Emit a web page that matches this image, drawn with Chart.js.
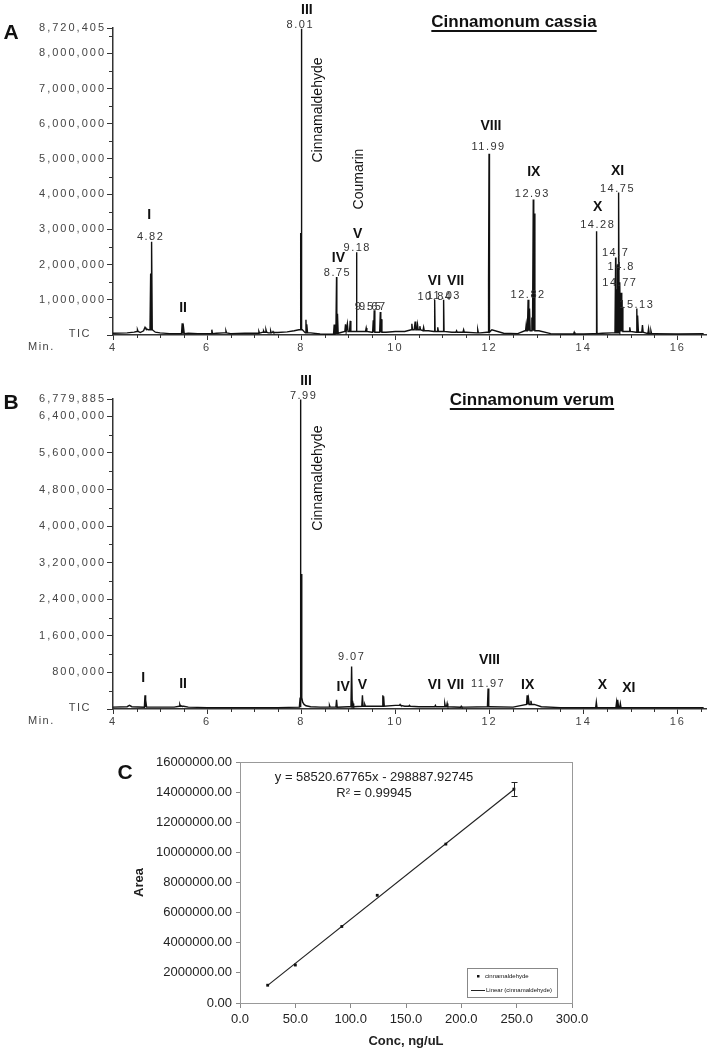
<!DOCTYPE html>
<html>
<head>
<meta charset="utf-8">
<script src="https://cdn.jsdelivr.net/npm/chart.js@4"></script>
<style>
  body{margin:0;background:#fff;width:716px;height:1049px;position:relative;overflow:hidden}
  canvas{position:absolute;left:0}
</style>
</head>
<body>
<canvas id="cassia" width="716" height="360" style="top:0"></canvas>
<canvas id="verum" width="716" height="375" style="top:360px"></canvas>
<canvas id="calib" width="716" height="314" style="top:735px"></canvas>
<script>
// values in millions of counts unless noted
const M = 1e6;

// --- A: Cinnamonum cassia ---
const baseA_t = [4.0,4.3,4.45,4.52,4.58,4.65,4.7,4.75,4.9,5.0,5.2,5.4,5.6,5.8,6.0,6.2,6.35,6.5,6.8,7.0,7.2,7.3,7.5,7.7,7.85,7.95,8.2,8.4,8.6,8.8,9.0,9.3,9.5,9.8,10.0,10.2,10.4,10.7,10.95,11.2,11.5,11.8,11.95,12.05,12.3,12.6,12.75,13.05,13.3,13.6,14.0,14.2,14.4,14.6,14.9,15.2,15.5,16.0,16.55];
const baseA_y = [0.05,0.06,0.08,0.1,0.07,0.12,0.18,0.15,0.08,0.06,0.04,0.04,0.05,0.04,0.04,0.05,0.06,0.04,0.05,0.05,0.08,0.06,0.07,0.09,0.12,0.15,0.06,0.03,0.02,0.05,0.1,0.1,0.08,0.08,0.1,0.1,0.15,0.12,0.1,0.08,0.08,0.06,0.08,0.15,0.05,0.04,0.12,0.12,0.04,0.03,0.03,0.04,0.05,0.06,0.1,0.08,0.04,0.03,0.04];
const peakA_t = [4.52,4.68,4.80,4.82,5.47,5.50,6.10,6.40,7.10,7.20,7.25,7.35,7.40,7.99,8.00,8.01,8.10,8.12,8.70,8.75,8.77,8.94,8.98,9.04,9.17,9.18,9.38,9.53,9.55,9.68,9.70,10.35,10.42,10.47,10.52,10.60,10.83,10.84,10.90,11.02,11.03,11.30,11.45,11.75,11.98,11.99,12.78,12.82,12.85,12.90,12.93,12.95,13.80,14.27,14.28,14.68,14.70,14.72,14.75,14.77,14.80,14.82,14.98,15.13,15.15,15.25,15.38,15.43];
const peakA_h = [0.15,0.22,1.75,2.65,0.33,0.20,0.15,0.12,0.10,0.12,0.15,0.12,0.10,2.90,6.45,8.70,0.43,0.30,0.30,1.65,0.60,0.30,0.32,0.40,1.65,2.35,0.20,0.42,0.70,0.65,0.45,0.32,0.38,0.30,0.25,0.22,0.60,1.00,0.22,0.85,1.00,0.12,0.15,0.15,1.56,5.15,0.30,1.00,0.75,0.50,3.85,3.45,0.08,2.75,2.95,2.20,1.30,2.00,4.05,1.50,1.20,0.80,0.22,0.75,0.55,0.28,0.18,0.12];
const yTicksA = [0,1,2,3,4,5,6,7,8];
const yTopA = 8720405;
const romanA = ['I','II','III','IV','V','VI','VII','VIII','IX','X','XI'];
const romanA_t = [4.77,5.49,8.12,8.79,9.20,10.83,11.28,12.03,12.94,14.30,14.72];
const romanA_y = [3.41,0.77,9.23,2.19,2.87,1.53,1.53,5.94,4.63,3.64,4.66];
const rtA = ['4.82','8.01','8.75','9.18','9.55','9.67','10.84','11.03','11.99','12.82','12.93','14.28','14.75','14.7','14.8','14.77','15.13'];
const rtA_t = [4.80,7.98,8.77,9.19,9.43,9.52,10.84,11.03,11.98,12.82,12.91,14.30,14.72,14.68,14.80,14.77,15.13];
const rtA_y = [2.78,8.80,1.76,2.47,0.80,0.80,1.08,1.12,5.34,1.14,4.00,3.12,4.15,2.33,1.93,1.48,0.85];
const nameA = ['Cinnamaldehyde','Coumarin'];
const nameA_t = [8.36,9.23];
const nameA_y = [6.39,4.43];

// --- B: Cinnamonum verum ---
const baseB_t = [4.0,4.3,4.35,4.4,4.8,5.0,5.3,5.5,5.6,6.0,6.5,7.0,7.5,7.96,8.015,8.03,8.06,8.1,8.2,8.4,8.6,9.0,9.5,10.0,10.2,10.5,11.0,11.5,12.0,12.5,12.95,13.1,13.5,14.0,14.5,15.0,15.5,16.0,16.55];
const baseB_y = [0.04,0.05,0.08,0.05,0.04,0.04,0.04,0.06,0.04,0.03,0.03,0.03,0.03,0.04,0.25,0.15,0.1,0.07,0.05,0.04,0.04,0.05,0.06,0.08,0.06,0.05,0.05,0.04,0.05,0.04,0.1,0.05,0.03,0.03,0.03,0.03,0.03,0.03,0.03];
const peakB_t = [4.68,4.70,5.42,5.45,7.98,7.99,8.00,8.60,8.75,9.07,9.10,9.30,9.35,9.73,9.75,10.10,10.30,10.85,11.05,11.10,11.40,11.97,12.80,12.83,12.88,14.27,14.70,14.73,14.78];
const peakB_h = [0.30,0.20,0.10,0.07,1.65,6.77,2.95,0.08,0.20,0.93,0.12,0.30,0.10,0.30,0.28,0.10,0.08,0.08,0.12,0.12,0.06,0.45,0.30,0.22,0.18,0.15,0.15,0.20,0.12];
const yTicksB = [0,0.8,1.6,2.4,3.2,4.0,4.8,5.6,6.4];
const yTopB = 6779885;
const romanB = ['I','II','III','IV','V','VI','VII','VIII','IX','X','XI'];
const romanB_t = [4.64,5.49,8.10,8.89,9.30,10.83,11.28,12.00,12.81,14.40,14.96];
const romanB_y = [0.67,0.54,7.18,0.48,0.52,0.52,0.52,1.06,0.52,0.52,0.46];
const rtB = ['7.99','9.07','11.97'];
const rtB_t = [8.05,9.07,11.97];
const rtB_y = [6.85,1.13,0.54];
const nameB = ['Cinnamaldehyde'];
const nameB_t = [8.36];
const nameB_y = [5.05];

// --- C: calibration ---
const concX = [25, 50, 92, 124, 186, 247.5];
const areaY = [1180000, 2520000, 5080000, 7150000, 10550000, 14200000];
const areaErr = [50000, 80000, 60000, 50000, 120000, 450000];
const trendX = [25, 247.5];
const trendY = [1170000, 14180000];

const SANS = '"Liberation Sans", Arial, sans-serif';

// helpers
function trace(bt, by, pt, ph){
  const pts = bt.map((t,i)=>({x:t, y:by[i]*M}));
  pt.forEach((t,i)=>{
    let k = 0;
    for(let j=1;j<bt.length;j++) if(Math.abs(bt[j]-t) < Math.abs(bt[k]-t)) k = j;
    const f = by[k]*M;
    pts.push({x:t-0.014,y:f},{x:t,y:ph[i]*M},{x:t+0.014,y:f});
  });
  return pts.sort((a,b)=>a.x-b.x);
}
const fmt = v => Math.round(v).toLocaleString('en-US');

function chromNotes(o){
  return {
    id:'notes',
    beforeDraw(chart){ chart.ctx.letterSpacing = '2px'; },
    afterDraw(chart){
      const {ctx, scales:{x, y}} = chart;
      ctx.save();
      // minor ticks
      ctx.strokeStyle = '#333'; ctx.lineWidth = 1;
      ctx.beginPath();
      for(let i=1; i*o.minor < o.top; i++){
        if(i%2===0) continue;
        const py = Math.round(y.getPixelForValue(i*o.minor*M))+0.5;
        ctx.moveTo(x.left-4, py); ctx.lineTo(x.left, py);
      }
      for(let t=4.5; t<16.6; t+=0.5){
        if(t%2===0) continue;
        const px = Math.round(x.getPixelForValue(t))+0.5;
        ctx.moveTo(px, y.bottom); ctx.lineTo(px, y.bottom+3);
      }
      ctx.stroke();

      ctx.textAlign = 'center'; ctx.textBaseline = 'middle';
      // roman numerals
      ctx.letterSpacing = '0px';
      ctx.fillStyle = '#111';
      ctx.font = 'bold 14px ' + SANS;
      o.roman.forEach((r,i)=>ctx.fillText(r, x.getPixelForValue(o.romanT[i]), y.getPixelForValue(o.romanY[i]*M)));
      // retention times
      ctx.letterSpacing = '1.5px';
      ctx.fillStyle = '#333';
      ctx.font = '11px ' + SANS;
      o.rt.forEach((r,i)=>ctx.fillText(r, x.getPixelForValue(o.rtT[i]), y.getPixelForValue(o.rtY[i]*M)));
      // TIC / Min.
      ctx.fillStyle = '#444';
      ctx.textAlign = 'right';
      ctx.fillText('TIC', x.left-22, y.bottom-1);
      ctx.textAlign = 'left';
      ctx.fillText('Min.', 28, y.bottom+12);
      // compound names, rotated
      ctx.letterSpacing = '0px';
      ctx.fillStyle = '#111';
      ctx.textAlign = 'center';
      ctx.font = '14px ' + SANS;
      o.names.forEach((n,i)=>{
        ctx.save();
        ctx.translate(x.getPixelForValue(o.namesT[i]), y.getPixelForValue(o.namesY[i]*M));
        ctx.rotate(-Math.PI/2);
        ctx.fillText(n, 0, 0);
        ctx.restore();
      });
      // panel letter
      ctx.font = 'bold 21px ' + SANS;
      ctx.fillText(o.letter, o.letterX, o.letterY);
      // title, underlined
      ctx.font = 'bold 17px ' + SANS;
      ctx.fillText(o.title, o.titleX, o.titleY);
      const w = ctx.measureText(o.title).width;
      ctx.fillRect(o.titleX - w/2, o.titleY + 8, w, 2);
      ctx.restore();
    }
  };
}

function chrom(id, trc, ticks, top, padTop, xH, notes){
  return new Chart(document.getElementById(id), {
    type:'scatter',
    data:{ datasets:[{ data:trc, showLine:true, pointRadius:0, borderColor:'#111', borderWidth:1.4, tension:0 }]},
    options:{
      responsive:false, animation:false,
      layout:{ padding:{ top:padTop, right:10, left:0, bottom:0 } },
      plugins:{ legend:{display:false}, tooltip:{enabled:false} },
      scales:{
        x:{ type:'linear', min:4, max:16.6,
            afterBuildTicks: s => { s.ticks = [4,6,8,10,12,14,16].map(v=>({value:v})); },
            afterFit: s => { s.height = xH; },
            ticks:{ callback:v=>String(v), font:{family:SANS,size:11}, color:'#444', padding:1, maxRotation:0, autoSkip:false },
            grid:{ drawOnChartArea:false, tickLength:5, color:'#333' },
            border:{ color:'#333', width:1.5 } },
        y:{ min:0, max:top,
            afterBuildTicks: s => { s.ticks = ticks.map(v=>({value:v*M})).concat([{value:top}]); },
            afterFit: s => { s.width = 113; },
            ticks:{ callback:v=> v===0 ? '' : fmt(v), font:{family:SANS,size:11}, color:'#444', padding:1, autoSkip:false },
            grid:{ drawOnChartArea:false, tickLength:6, color:'#333' },
            border:{ color:'#333', width:1.5 } }
      }
    },
    plugins:[chromNotes(notes)]
  });
}

chrom('cassia', trace(baseA_t, baseA_y, peakA_t, peakA_h), yTicksA, yTopA, 28, 25, {
  minor:0.5, top:yTopA/M,
  roman:romanA, romanT:romanA_t, romanY:romanA_y,
  rt:rtA, rtT:rtA_t, rtY:rtA_y,
  names:nameA, namesT:nameA_t, namesY:nameA_y,
  letter:'A', letterX:11, letterY:33,
  title:'Cinnamonum cassia', titleX:514, titleY:22
});

chrom('verum', trace(baseB_t, baseB_y, peakB_t, peakB_h), yTicksB, yTopB, 39, 26, {
  minor:0.4, top:yTopB/M,
  roman:romanB, romanT:romanB_t, romanY:romanB_y,
  rt:rtB, rtT:rtB_t, rtY:rtB_y,
  names:nameB, namesT:nameB_t, namesY:nameB_y,
  letter:'B', letterX:11, letterY:43,
  title:'Cinnamonum verum', titleX:532, titleY:40
});

// calibration panel extras
const calibNotes = {
  id:'calibNotes',
  afterDraw(chart){
    const {ctx, chartArea:a, scales:{x, y}} = chart;
    ctx.save();
    ctx.strokeStyle = '#999'; ctx.lineWidth = 1;
    ctx.strokeRect(Math.round(a.left)+0.5, Math.round(a.top)+0.5, Math.round(a.right-a.left), Math.round(a.bottom-a.top));
    // error bars
    ctx.strokeStyle = '#222';
    ctx.beginPath();
    concX.forEach((c,i)=>{
      const px = Math.round(x.getPixelForValue(c))+0.5;
      const y1 = y.getPixelForValue(areaY[i]+areaErr[i]);
      const y2 = y.getPixelForValue(areaY[i]-areaErr[i]);
      if(y2 - y1 < 4) return;
      ctx.moveTo(px, y1); ctx.lineTo(px, y2);
      ctx.moveTo(px-3, Math.round(y1)+0.5); ctx.lineTo(px+3, Math.round(y1)+0.5);
      ctx.moveTo(px-3, Math.round(y2)+0.5); ctx.lineTo(px+3, Math.round(y2)+0.5);
    });
    ctx.stroke();
    // equation
    ctx.fillStyle = '#222';
    ctx.textAlign = 'center'; ctx.textBaseline = 'middle';
    ctx.font = '13px ' + SANS;
    const cx = a.left + 134;
    ctx.fillText('y = 58520.67765x - 298887.92745', cx, a.top + 15);
    ctx.fillText('R\u00B2 = 0.99945', cx, a.top + 31);
    // legend box
    const lx = a.right - 105, ly = a.bottom - 35;
    ctx.strokeStyle = '#888';
    ctx.strokeRect(Math.round(lx)+0.5, Math.round(ly)+0.5, 90, 29);
    ctx.textAlign = 'left';
    ctx.font = '6px ' + SANS;
    ctx.fillStyle = '#111';
    ctx.fillRect(lx + 10, ly + 7, 2.5, 2.5);
    ctx.fillText(chart.data.datasets[0].label, lx + 18, ly + 8.5);
    ctx.strokeStyle = '#222';
    ctx.beginPath(); ctx.moveTo(lx + 4, ly + 22.5); ctx.lineTo(lx + 18, ly + 22.5); ctx.stroke();
    ctx.fillText(chart.data.datasets[1].label, lx + 19, ly + 22.5);
    // panel letter
    ctx.textAlign = 'center';
    ctx.font = 'bold 21px ' + SANS;
    ctx.fillText('C', 125, 38);
    ctx.restore();
  }
};

new Chart(document.getElementById('calib'), {
  type:'scatter',
  data:{ datasets:[
    { label:'cinnamaldehyde', data:concX.map((c,i)=>({x:c, y:areaY[i]})),
      pointStyle:'rect', pointRadius:2, backgroundColor:'#111', borderColor:'#111', borderWidth:0 },
    { label:'Linear (cinnamaldehyde)', data:trendX.map((c,i)=>({x:c, y:trendY[i]})),
      showLine:true, pointRadius:0, borderColor:'#222', borderWidth:1.2 }
  ]},
  options:{
    responsive:false, animation:false,
    layout:{ padding:{ left:128, top:27, right:144, bottom:0 } },
    plugins:{ legend:{display:false}, tooltip:{enabled:false} },
    scales:{
      x:{ type:'linear', min:0, max:300,
          afterFit: s => { s.height = 46; },
          ticks:{ stepSize:50, callback:v=>v.toFixed(1), font:{family:SANS,size:13}, color:'#222', padding:4, maxRotation:0 },
          grid:{ drawOnChartArea:false, tickLength:5, color:'#888' },
          border:{ color:'#999' },
          title:{ display:true, text:'Conc, ng/uL', font:{family:SANS,size:13,weight:'bold'}, color:'#222', padding:{top:0,bottom:0} } },
      y:{ min:0, max:16000000,
          afterFit: s => { s.width = 112; },
          ticks:{ stepSize:2000000, callback:v=>v.toFixed(2), font:{family:SANS,size:13}, color:'#222', padding:4 },
          grid:{ drawOnChartArea:false, tickLength:4, color:'#888' },
          border:{ color:'#999' },
          title:{ display:true, text:'Area', font:{family:SANS,size:13,weight:'bold'}, color:'#222', padding:{top:4,bottom:0} } }
    }
  },
  plugins:[calibNotes]
});
</script>
</body>
</html>
